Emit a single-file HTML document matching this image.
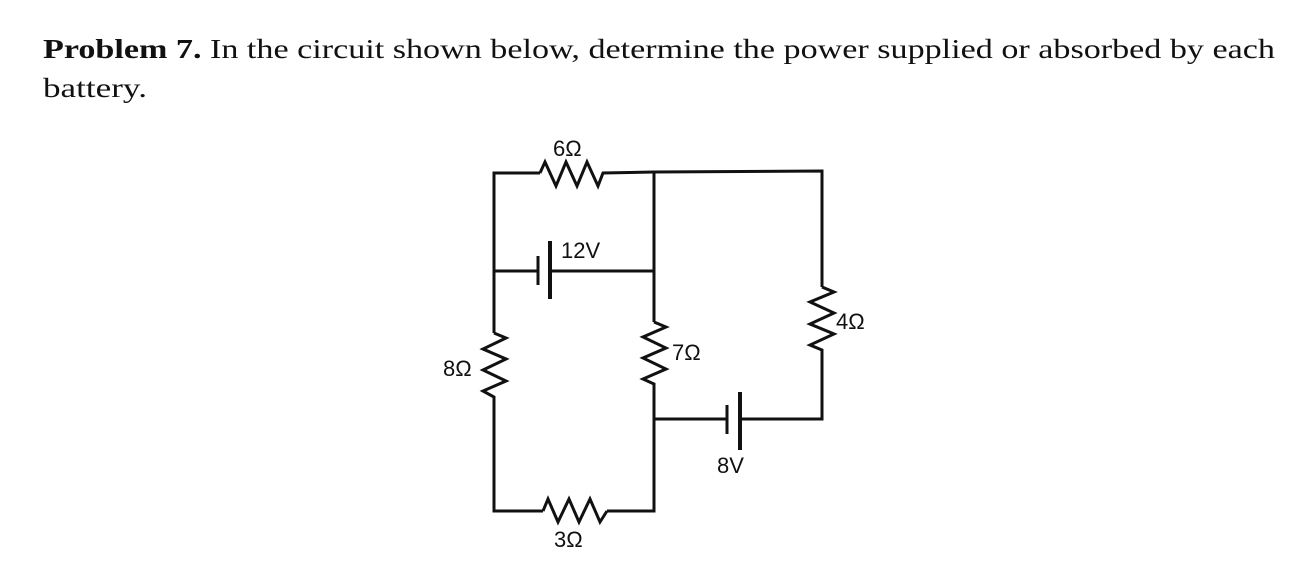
<!DOCTYPE html>
<html><head><meta charset="utf-8"><style>
html,body{margin:0;padding:0;background:#fff;}
svg{display:block}
</style></head><body>
<svg width="1296" height="581" viewBox="0 0 1296 581" xmlns="http://www.w3.org/2000/svg">
<g font-family="Liberation Serif, serif" font-size="27" fill="#111">
<text x="43" y="58" textLength="1232" lengthAdjust="spacingAndGlyphs"><tspan font-weight="bold">Problem 7.</tspan> In the circuit shown below, determine the power supplied or absorbed by each</text>
<text x="43" y="97" textLength="104" lengthAdjust="spacingAndGlyphs">battery.</text>
</g>
<g stroke="#111" stroke-width="3" fill="none" stroke-linejoin="miter">
<polyline points="494,333 494,173 540,173"/>
<polyline points="540,173 545,162 556,186 566,162 577,186 587,162 598,186 603,173 654,172 822,171 822,287"/>
<line x1="494" y1="271" x2="538" y2="271"/>
<line x1="538" y1="256" x2="538" y2="285"/>
<line x1="550" y1="241" x2="550" y2="299" stroke-width="4"/>
<line x1="550" y1="271" x2="654" y2="271"/>
<line x1="654" y1="172" x2="654" y2="322"/>
<polyline points="654,322 666,327 643,337 666,348 643,358 666,369 643,379 654,384 654,511 607,511"/>
<polyline points="822,287 834,292 810,302 834,313 810,324 834,334 810,345 822,350 822,419 742,419"/>
<line x1="654" y1="419" x2="727" y2="419"/>
<line x1="727" y1="405" x2="727" y2="434"/>
<line x1="740" y1="392" x2="740" y2="450" stroke-width="4"/>
<polyline points="494,333 506,338 483,349 506,359 483,370 506,381 483,391 494,397 494,511 543,511"/>
<polyline points="543,511 548,499 558,522 569,499 579,522 590,499 600,522 607,511"/>
</g>
<g font-family="Liberation Sans, DejaVu Sans, sans-serif" font-size="22" fill="#111">
<text x="553" y="156">6Ω</text>
<text x="561" y="258">12V</text>
<text x="443" y="376">8Ω</text>
<text x="672" y="360">7Ω</text>
<text x="836" y="329">4Ω</text>
<text x="717" y="473">8V</text>
<text x="554" y="547">3Ω</text>
</g>
</svg>
</body></html>
